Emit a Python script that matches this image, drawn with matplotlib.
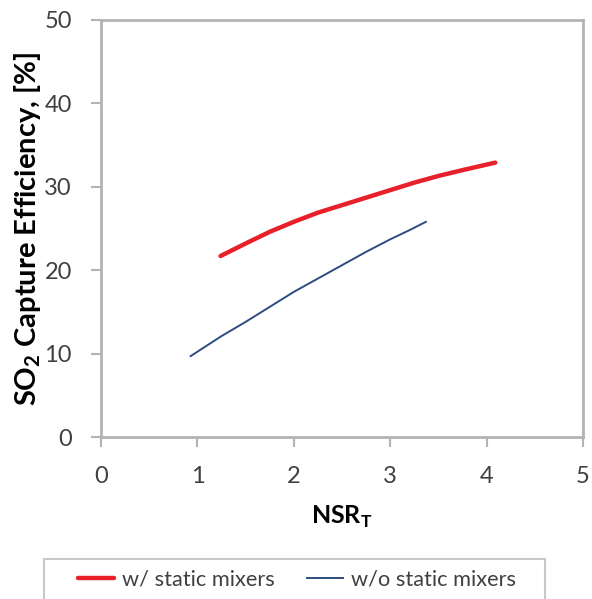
import matplotlib.pyplot as plt
from matplotlib.patches import Rectangle
import numpy as np

# values
nsr_with = [1.24, 1.5, 1.75, 2.0, 2.25, 2.5, 2.75, 3.0, 3.25, 3.5, 3.75, 4.09]
eff_with = [21.7, 23.2, 24.6, 25.8, 26.9, 27.8, 28.7, 29.6, 30.5, 31.3, 32.0, 32.9]
nsr_without = [0.93, 1.25, 1.5, 1.75, 2.0, 2.25, 2.5, 2.75, 3.0, 3.2, 3.37]
eff_without = [9.7, 12.1, 13.8, 15.6, 17.4, 19.0, 20.6, 22.2, 23.7, 24.8, 25.8]

x_ticks = [0, 1, 2, 3, 4, 5]
y_ticks = [0, 10, 20, 30, 40, 50]

plt.rcParams['font.family'] = ['Lato', 'DejaVu Sans']

fig = plt.figure(figsize=(5.92, 5.99), dpi=100)
ax = fig.add_axes([101/592, 1-437/599, 482/592, 417/599])

ax.plot(nsr_with, eff_with, color='#e8202a', lw=3.2, label='w/ static mixers',
        solid_capstyle='round')
ax.plot(nsr_without, eff_without, color='#2b4c7e', lw=1.4, label='w/o static mixers')

ax.set_xlim(0, 5)
ax.set_ylim(0, 50)
ax.set_xticks(x_ticks)
ax.set_yticks(y_ticks)

for s in ax.spines.values():
    s.set_color('#b3b3b3')
    s.set_linewidth(2)
ax.tick_params(direction='out', length=7, width=1.5, color='#b3b3b3',
               labelsize=17, labelcolor='#404040')
ax.tick_params(axis='y', pad=14)
ax.tick_params(axis='x', pad=14)

ax.set_xlabel('NSR$_\\mathregular{T}$', fontsize=18, fontweight='bold', labelpad=12)
ax.set_ylabel('SO$_\\mathregular{2}$ Capture Efficiency, [%]', fontsize=21,
              fontweight='bold', labelpad=1)

# legend box (bottom edge is cut off by the figure edge, as in the source)
fig.patches.append(Rectangle((44/592, -0.05), 501/592, 0.05 + 1 - 559/599,
                             transform=fig.transFigure, fill=False,
                             edgecolor='#c8c8c8', lw=1.5))
leg = fig.legend(loc='center', bbox_to_anchor=(297/592, 1-580/599),
                 ncol=2, fontsize=15.7, frameon=False,
                 handlelength=1.65, handletextpad=0.37, columnspacing=1.5,
                 borderaxespad=0)
for t in leg.get_texts():
    t.set_color('#404040')

fig.savefig('out.png', dpi=100)
